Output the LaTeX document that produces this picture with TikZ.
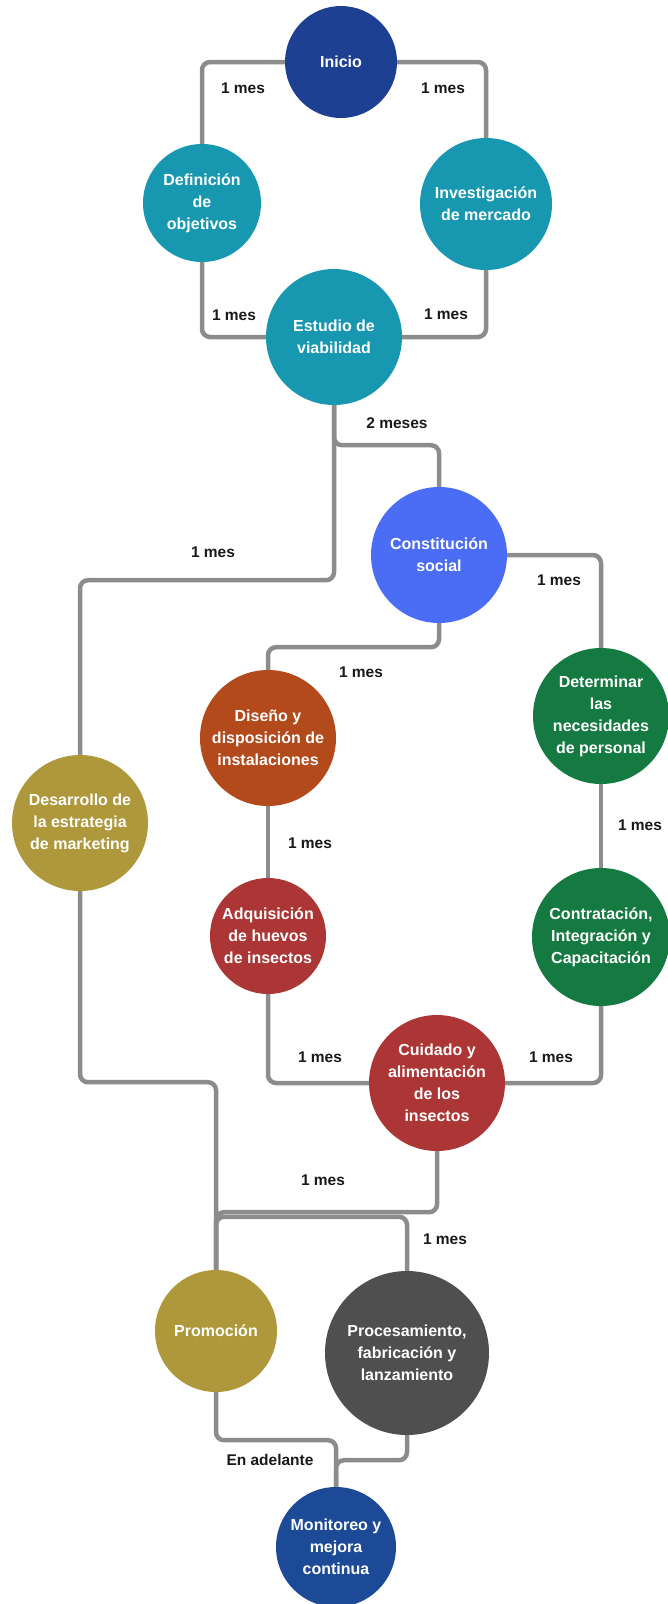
\documentclass[tikz,border=0pt]{standalone}
\usepackage{fontspec}
\setmainfont{Liberation Sans}
\definecolor{startBlue}{RGB}{29,64,146}
\definecolor{stageTeal}{RGB}{23,152,176}
\definecolor{lightBlue}{RGB}{75,108,245}
\definecolor{rust}{RGB}{178,74,28}
\definecolor{brick}{RGB}{172,53,53}
\definecolor{forest}{RGB}{21,122,66}
\definecolor{olive}{RGB}{174,152,59}
\definecolor{slate}{RGB}{79,79,79}
\definecolor{linkGray}{RGB}{140,140,140}
\pgfdeclarelayer{links}
\pgfsetlayers{links,main}
\tikzset{
	stage/.style={circle, draw=none, text=white, inner sep=0pt, align=center, font=\bfseries\fontsize{16}{22}\selectfont},
	link/.style={line width=4.5pt, draw=linkGray, rounded corners=8pt},
	time/.style={font=\bfseries\fontsize{15.5}{18}\selectfont, text=black!90}
}
\begin{document}
\begin{tikzpicture}[x=1pt, y=-1pt]
	\useasboundingbox (0,0) rectangle (667,1604);
		\node[stage, fill=startBlue, minimum size=112pt](inicio) at (341,62){Inicio};
		\node[stage, fill=stageTeal, minimum size=118pt](objetivos) at (202,203){Definición\\de\\objetivos};
		\node[stage, fill=stageTeal, minimum size=132pt](mercado) at (486,204){Investigación\\de mercado};
		\node[stage, fill=stageTeal, minimum size=136pt](viabilidad) at (334,337){Estudio de\\viabilidad};
		\node[stage, fill=lightBlue, minimum size=136pt](constitucion) at (439,555){Constitución\\social};
		\node[stage, fill=olive, minimum size=136pt](marketing) at (80,823){Desarrollo de\\la estrategia\\de marketing};
		\node[stage, fill=rust, minimum size=136pt](diseno) at (268,738){Diseño y\\disposición de\\instalaciones};
		\node[stage, fill=forest, minimum size=136pt](personal) at (601,716){Determinar\\las\\necesidades\\de personal};
		\node[stage, fill=brick, minimum size=116pt](huevos) at (268,936){Adquisición\\de huevos\\de insectos};
		\node[stage, fill=forest, minimum size=138pt](contratacion) at (601,937){Contratación,\\Integración y\\Capacitación};
		\node[stage, fill=brick, minimum size=136pt](cuidado) at (437,1083){Cuidado y\\alimentación\\de los\\insectos};
		\node[stage, fill=olive, minimum size=122pt](promocion) at (216,1331){Promoción};
		\node[stage, fill=slate, minimum size=164pt](procesamiento) at (407,1353){Procesamiento,\\fabricación y\\lanzamiento};
		\node[stage, fill=startBlue!95!cyan, minimum size=120pt](monitoreo) at (336,1547){Monitoreo y\\mejora\\continua};
		% links go under the circles
		\begin{pgfonlayer}{links}
		\draw [link] (inicio.west) -| (objetivos.north);
		\draw [link] (inicio.east) -| (mercado.north);
		\draw [link] (objetivos.south) |- (viabilidad.west);
		\draw [link] (mercado.south) |- (viabilidad.east);
		\draw [link] (viabilidad.south) -- ++(0,40) -| (constitucion.north);
		\draw [link] (viabilidad.south) -- ++(0,175) -| (marketing.north);
		\draw [link] (constitucion.east) -| (personal.north);
		\draw [link] (constitucion.south) -- ++(0,24) -| (diseno.north);
		\draw [link] (diseno.south) -- (huevos.north);
		\draw [link] (personal.south) -- (contratacion.north);
		\draw [link] (huevos.south) |- (cuidado.west);
		\draw [link] (contratacion.south) |- (cuidado.east);
		\draw [link] (marketing.south) -- ++(0,191) -| (promocion.north);
		\draw [link] (cuidado.south) -- ++(0,61) -| (promocion.north);
		\draw [link] (procesamiento.north) -- ++(0,-54) -| (promocion.north);
		\draw [link] (promocion.south) -- ++(0,48) -| (monitoreo.north);
		\draw [link] (procesamiento.south) -- ++(0,25) -| (monitoreo.north);
		\end{pgfonlayer}
		% durations
		\node[time](tIniObj) at (243,88){1 mes};
		\node[time](tIniMer) at (443,88){1 mes};
		\node[time](tObjVia) at (234,315){1 mes};
		\node[time](tMerVia) at (446,314){1 mes};
		\node[time](tViaCon) at (397,423){2 meses};
		\node[time](tViaMar) at (213,552){1 mes};
		\node[time](tConPer) at (559,580){1 mes};
		\node[time](tConDis) at (361,672){1 mes};
		\node[time](tPerCon) at (640,825){1 mes};
		\node[time](tDisHue) at (310,843){1 mes};
		\node[time](tHueCui) at (320,1057){1 mes};
		\node[time](tConCui) at (551,1057){1 mes};
		\node[time](tCuiPro) at (323,1180){1 mes};
		\node[time](tProPro) at (445,1239){1 mes};
		\node[time](tMon) at (270,1460){En adelante};
\end{tikzpicture}
\end{document}
